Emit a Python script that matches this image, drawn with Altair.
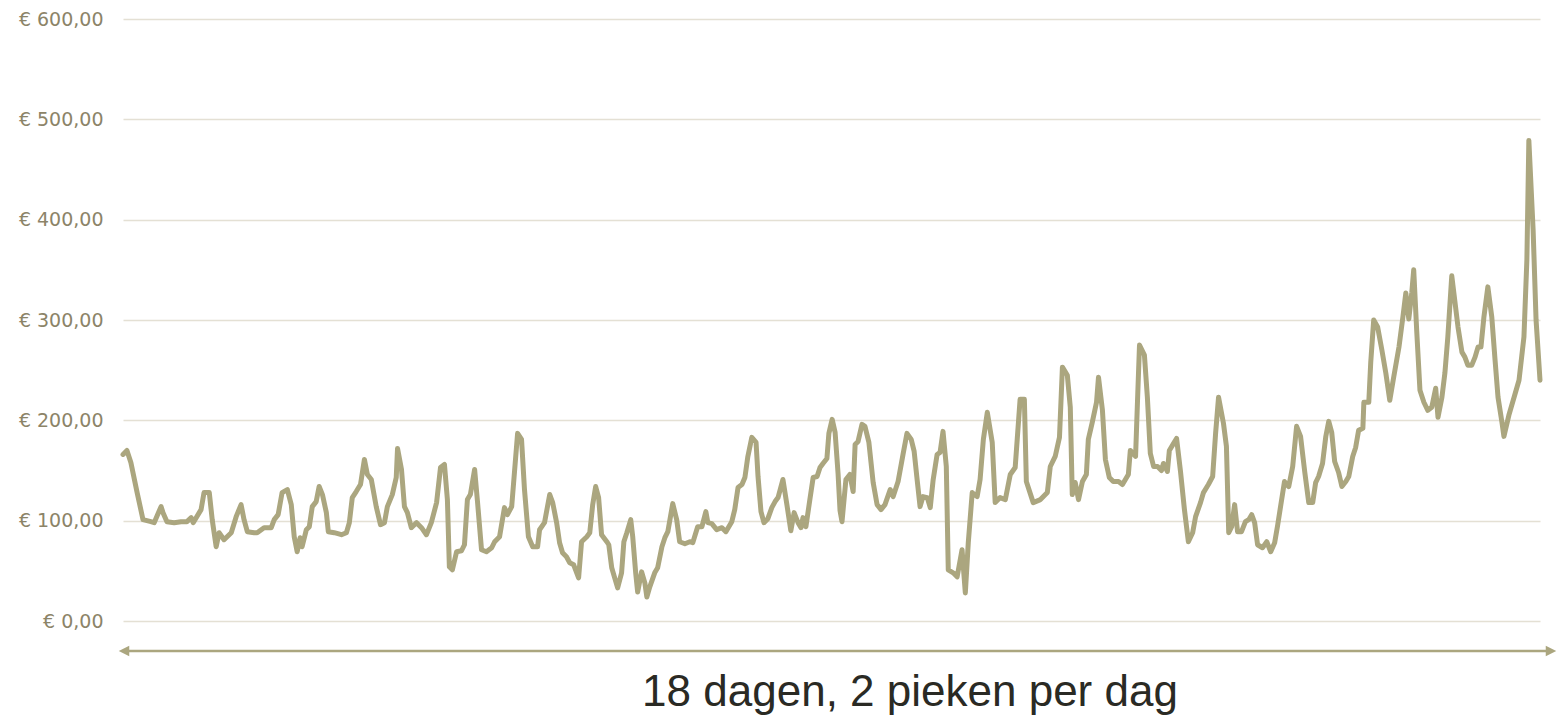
import altair as alt
import pandas as pd

# hour index within 18 days (0..432) and price in euro
uur = [0.0, 1.2, 2.4, 4.3, 6.1, 8.5, 9.5, 11.6, 12.2, 13.4, 15.6, 17.7, 19.5, 20.8, 21.4, 23.8, 24.7, 26.3, 27.2, 28.4,
       29.3, 30.8, 33.0, 34.5, 36.0, 36.9, 37.9, 40.0, 40.9, 43.0, 45.2, 46.1, 47.3, 48.5, 50.1, 51.3, 52.2, 53.1, 54.0, 54.6,
       55.9, 56.8, 57.7, 58.9, 59.8, 60.8, 62.0, 62.6, 64.4, 66.6, 68.1, 69.0, 69.9, 71.1, 72.4, 73.6, 74.5, 75.7, 77.2, 78.5,
       79.7, 80.6, 82.1, 83.3, 83.7, 84.9, 85.8, 86.7, 87.9, 89.5, 91.0, 92.5, 94.0, 95.6, 96.8, 98.0, 98.9, 99.5, 100.4, 101.7,
       103.2, 104.1, 105.0, 105.9, 107.2, 108.1, 109.3, 110.8, 112.4, 113.3, 114.8, 116.3, 117.2, 118.5, 120.3, 121.5, 122.4, 123.6, 124.9, 126.4,
       127.0, 128.5, 130.1, 131.0, 132.2, 133.1, 134.0, 135.2, 136.2, 137.4, 138.9, 139.8, 141.4, 142.3, 143.2, 144.1, 145.0, 145.9, 147.5, 148.1,
       149.0, 149.9, 150.8, 152.0, 152.7, 153.6, 154.8, 155.4, 156.3, 156.9, 158.1, 159.1, 159.7, 160.6, 162.1, 163.0, 164.3, 165.2, 166.1, 167.6,
       168.8, 169.7, 171.3, 172.8, 173.7, 175.2, 176.5, 177.7, 178.3, 179.5, 181.0, 182.6, 183.8, 185.6, 186.5, 187.5, 188.7, 189.6, 190.5, 191.7,
       193.0, 193.6, 194.5, 195.4, 196.6, 197.8, 198.8, 199.7, 201.2, 202.4, 203.6, 204.6, 205.8, 206.7, 207.3, 208.2, 209.4, 210.4, 211.6, 212.5,
       213.4, 214.6, 215.2, 216.2, 217.1, 218.0, 218.6, 219.2, 220.4, 221.6, 222.6, 223.2, 224.1, 225.3, 226.2, 227.4, 228.7, 229.9, 231.1, 232.3,
       233.9, 234.8, 236.3, 237.8, 239.0, 240.3, 241.2, 242.1, 243.0, 243.9, 245.2, 246.1, 247.0, 248.2, 249.1, 250.0, 251.0, 251.6, 253.1, 254.3,
       255.8, 256.8, 257.7, 258.9, 260.4, 261.3, 262.3, 263.5, 265.0, 265.9, 267.4, 269.0, 270.5, 272.0, 273.5, 274.8, 275.4, 277.5, 279.7, 281.8,
       282.7, 284.2, 285.5, 286.4, 287.9, 288.8, 289.4, 290.3, 291.3, 292.5, 293.7, 294.3, 295.5, 296.8, 297.4, 298.6, 299.5, 300.7, 301.9, 303.5,
       304.7, 305.6, 306.5, 307.1, 308.7, 309.3, 309.9, 311.4, 312.3, 313.2, 314.2, 315.4, 316.6, 317.2, 318.4, 319.0, 320.3, 321.2, 322.4, 323.6,
       324.8, 326.1, 327.0, 328.5, 329.4, 330.9, 332.2, 333.1, 334.0, 335.5, 336.4, 337.1, 338.0, 338.9, 339.8, 341.0, 342.2, 343.2, 344.1, 345.0,
       345.9, 347.4, 348.7, 349.9, 351.1, 352.0, 352.9, 354.1, 355.4, 356.6, 357.8, 359.0, 360.3, 361.5, 362.7, 363.6, 364.5, 365.7, 366.7, 367.6,
       368.5, 369.4, 370.6, 371.6, 372.8, 373.7, 374.9, 375.8, 376.7, 378.0, 378.3, 379.8, 380.4, 381.3, 382.5, 383.8, 385.0, 386.2, 387.4, 389.0,
       390.2, 391.1, 392.0, 392.9, 393.5, 394.4, 395.4, 396.6, 397.8, 399.0, 400.2, 400.9, 402.1, 403.0, 403.9, 405.1, 406.0, 407.0, 408.2, 409.1,
       410.0, 411.2, 412.2, 413.1, 414.0, 414.9, 416.1, 417.3, 418.3, 419.2, 420.4, 421.0, 422.5, 424.1, 425.6, 427.1, 428.0, 428.6, 429.9, 430.8,
       432.0]

prijs = [166, 170, 158, 128, 101, 99, 98, 114, 108, 99, 98, 99, 99, 103, 98, 111, 128, 128, 101, 74,
         88, 81, 88, 104, 116, 101, 89, 88, 88, 93, 93, 101, 106, 128, 131, 116, 84, 69, 83, 74,
         91, 94, 114, 119, 134, 126, 108, 89, 88, 86, 88, 98, 123, 129, 136, 161, 146, 141, 114, 96,
         98, 114, 126, 143, 172, 151, 114, 108, 93, 98, 93, 86, 98, 118, 153, 156, 121, 54, 51, 69,
         70, 76, 121, 126, 151, 118, 71, 69, 73, 79, 84, 113, 106, 114, 187, 181, 131, 84, 74, 74,
         91, 98, 126, 118, 98, 78, 68, 64, 58, 56, 43, 79, 84, 88, 116, 134, 123, 86, 79, 76,
         53, 43, 33, 48, 79, 88, 101, 84, 48, 29, 49, 38, 24, 34, 48, 53, 74, 83, 89, 117,
         101, 79, 77, 79, 78, 94, 94, 109, 98, 97, 91, 93, 89, 99, 111, 133, 136, 143, 164, 183,
         178, 144, 109, 98, 102, 113, 119, 123, 141, 116, 90, 108, 98, 93, 103, 94, 121, 143, 144, 153,
         157, 162, 187, 201, 188, 147, 110, 99, 141, 146, 129, 176, 179, 196, 194, 178, 138, 116, 111, 116,
         131, 124, 139, 166, 187, 181, 169, 141, 114, 124, 123, 113, 141, 166, 168, 189, 154, 51, 48, 44,
         71, 28, 78, 128, 124, 141, 181, 208, 178, 118, 123, 121, 146, 153, 221, 221, 139, 118, 121, 128,
         154, 164, 183, 253, 245, 213, 126, 138, 121, 139, 146, 181, 198, 218, 243, 210, 161, 143, 139, 139,
         136, 141, 146, 170, 164, 220, 275, 265, 223, 167, 154, 154, 150, 157, 149, 170, 177, 182, 149, 111,
         79, 88, 104, 118, 128, 136, 144, 187, 223, 197, 174, 88, 94, 116, 89, 89, 99, 101, 106, 98,
         76, 73, 79, 69, 78, 95, 114, 139, 134, 154, 194, 184, 148, 118, 118, 138, 144, 157, 184, 199,
         188, 159, 148, 134, 139, 144, 164, 173, 190, 192, 218, 218, 258, 300, 293, 270, 247, 220, 243, 273,
         303, 327, 301, 327, 350, 290, 230, 218, 210, 213, 232, 203, 223, 247, 283, 344, 320, 293, 268, 263,
         255, 255, 263, 273, 273, 303, 333, 303, 260, 223, 198, 184, 205, 223, 240, 283, 360, 479, 390, 300,
         240]

y_ticks = [0, 100, 200, 300, 400, 500, 600]
titel = "18 dagen, 2 pieken per dag"

df = pd.DataFrame({"uur": uur, "prijs": prijs})

LINE = "#aba67f"

base = alt.Chart(df)

line = base.mark_line(color=LINE, strokeWidth=5, strokeJoin="round", strokeCap="round").encode(
    x=alt.X("uur:Q", scale=alt.Scale(domain=[0, 432], nice=False, zero=False), axis=None),
    y=alt.Y(
        "prijs:Q",
        scale=alt.Scale(domain=[0, 600], nice=False),
        axis=alt.Axis(
            values=y_ticks,
            title=None,
            domain=False,
            ticks=False,
            grid=True,
            gridColor="#e4e0d4",
            gridWidth=1.5,
            labelExpr="'€ ' + replace(format(datum.value, '.2f'), '.', ',')",
            labelFont="DejaVu Sans",
            labelFontSize=19,
            labelColor="#8c8468",
            labelPadding=20,
        ),
    ),
)

one = pd.DataFrame({"k": [0]})
arrow_line = alt.Chart(one).mark_rule(color=LINE, strokeWidth=2.5).encode(
    x=alt.value(2), x2=alt.value(1428), y=alt.value(632)
)
arrow_left = alt.Chart(one).mark_point(
    shape="M1,-1L-1,0L1,1Z", filled=True, color=LINE, opacity=1, size=110
).encode(x=alt.value(1), y=alt.value(632))
arrow_right = alt.Chart(one).mark_point(
    shape="M-1,-1L1,0L-1,1Z", filled=True, color=LINE, opacity=1, size=110
).encode(x=alt.value(1428), y=alt.value(632))

title_text = alt.Chart(pd.DataFrame({"t": [titel]})).mark_text(
    font="Liberation Sans", fontSize=44, color="#2a2a24", align="center", baseline="alphabetic"
).encode(text="t:N", x=alt.value(787), y=alt.value(687))

chart = alt.layer(line, arrow_line, arrow_left, arrow_right, title_text).properties(
    width=1417,
    height=602,
    autosize=alt.AutoSizeParams(type="none"),
    padding={"left": 115, "top": 11, "right": 18, "bottom": 95},
).configure_view(stroke=None)

chart.save("out.html", embed_options={"renderer": "svg", "actions": False})
